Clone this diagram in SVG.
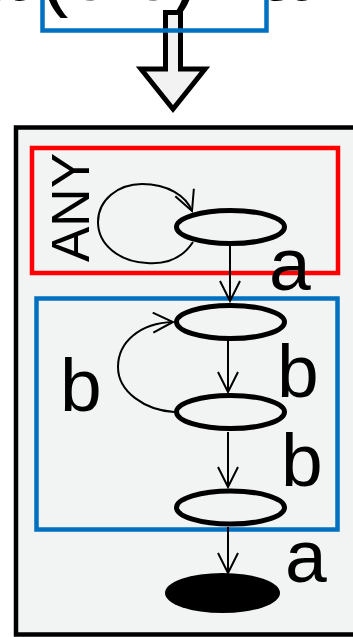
<svg xmlns="http://www.w3.org/2000/svg" width="353" height="637" viewBox="0 0 353 637">
  <style>
    .lbl { font-family: "Liberation Sans", Arial, sans-serif; font-size: 75px; fill: #000; }
    .state { fill: #f2f3f3; stroke: #000; stroke-width: 5; }
    .edge { fill: none; stroke: #000; stroke-width: 2; }
    .grp-red { fill: none; stroke: #ff0000; stroke-width: 4.5; }
    .grp-blue { fill: none; stroke: #0070c0; stroke-width: 4.5; }
  </style>
  <defs>
    <marker id="vhead" markerUnits="userSpaceOnUse" markerWidth="24" markerHeight="24" viewBox="-1 -1 24 24" refX="20" refY="10" orient="auto">
      <path d="M0,0 L20,10 L0,20" fill="none" stroke="#000" stroke-width="2"/>
    </marker>
  </defs>

  <!-- expression above, mostly cut by the top edge -->
  <g id="expression">
    <text class="lbl" x="-23" y="-0.5" style="font-size:86px" textLength="330" lengthAdjust="spacing">a (b b)+ a</text>
  </g>

  <!-- transformation arrow -->
  <g id="transform-arrow">
    <polygon points="165.5,12.5 180.5,12.5 180.5,69 205,69 173,109 141,69 165.5,69" fill="#f2f2f2" stroke="#000" stroke-width="5" stroke-linejoin="miter"/>
  </g>

  <g id="expr-box">
    <rect class="grp-blue" x="42.5" y="-30" width="224" height="60.5"/>
  </g>

  <!-- automaton panel -->
  <g id="panel">
    <rect x="16" y="127.5" width="360" height="507" fill="#f2f3f3" stroke="#000" stroke-width="4.5"/>
  </g>

  <g id="any-box">
    <rect class="grp-red" x="32" y="148" width="306" height="125"/>
    <text class="lbl" transform="translate(89,262) rotate(-90)" style="font-size:53px">ANY</text>
  </g>

  <g id="bb-box">
    <rect class="grp-blue" x="36.5" y="298.5" width="301" height="231"/>
  </g>

  <g id="connectors">
    <!-- ANY self loop -->
    <path class="edge" d="M193,242 C180,262 160,264 147,263 C120,262 98,245 98,222 C98,200 118,184 142,184 C168,184 186,196 192,211" marker-end="url(#vhead)"/>
    <path class="edge" d="M230,246 L230,301" marker-end="url(#vhead)"/>
    <path class="edge" d="M228,333 L228,392" marker-end="url(#vhead)"/>
    <!-- b back loop -->
    <path class="edge" d="M174,412 C145,410 118,392 118,367 C118,342 140,323 173,322" marker-end="url(#vhead)"/>
    <path class="edge" d="M228,432 L228,487" marker-end="url(#vhead)"/>
    <path class="edge" d="M228,527 L228,573" marker-end="url(#vhead)"/>
  </g>

  <g id="s0">
    <ellipse class="state" cx="230.5" cy="227" rx="54" ry="16.5"/>
  </g>
  <g id="s1">
    <ellipse class="state" cx="230.5" cy="322" rx="54" ry="16.5"/>
  </g>
  <g id="s2">
    <ellipse class="state" cx="230.5" cy="412" rx="54" ry="16.5"/>
  </g>
  <g id="s3">
    <ellipse class="state" cx="230.5" cy="507.5" rx="54" ry="16.5"/>
  </g>
  <g id="s-final">
    <ellipse cx="222.5" cy="593" rx="57.5" ry="20" fill="#000"/>
  </g>

  <g id="labels">
    <text class="lbl" x="269" y="290">a</text>
    <text class="lbl" x="277" y="397">b</text>
    <text class="lbl" x="60" y="411">b</text>
    <text class="lbl" x="281" y="486">b</text>
    <text class="lbl" x="285" y="582">a</text>
  </g>
</svg>
